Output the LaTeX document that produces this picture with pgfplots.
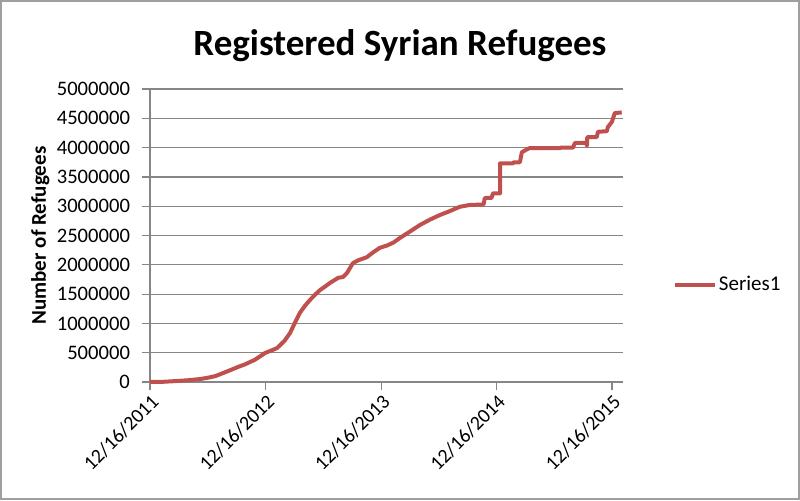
\documentclass[border=0pt]{standalone}
\usepackage{pgfplots}
\pgfplotsset{compat=1.18}
\usepackage{fontspec}
\setmainfont{Carlito}
\definecolor{serred}{RGB}{192,80,77}
\definecolor{gridgray}{RGB}{134,134,134}
\begin{document}
\begin{tikzpicture}[x=1pt,y=1pt]
\useasboundingbox (0,0) rectangle (400,250);
\draw[gray!75,line width=0.8pt] (0.6,0.6) rectangle (399.4,249.4);
\node[font=\fontsize{18.5}{20}\selectfont\bfseries] at (200,227) {Registered Syrian Refugees};
\begin{axis}[
  at={(75pt,59pt)}, anchor=south west,
  scale only axis, width=236.5pt, height=146.5pt,
  xmin=0, xmax=1496, ymin=0, ymax=5000000,
  axis x line=bottom, axis y line=left,
  axis line style={-, gridgray, line width=0.6pt},
  xtick={0,366,731,1096,1461},
  xticklabels={12/16/2011,12/16/2012,12/16/2013,12/16/2014,12/16/2015},
  xticklabel style={rotate=45, anchor=north east, font=\fontsize{10}{11}\selectfont, inner sep=1pt},
  ytick={0,500000,...,5000000},
  scaled y ticks=false,
  /pgf/number format/fixed, /pgf/number format/precision=0,
  /pgf/number format/1000 sep={}, /pgf/number format/assume math mode=true,
  yticklabel style={font=\fontsize{10.3}{11}\selectfont, xshift=-2.5pt},
  tick align=outside, major tick length=4pt,
  tick style={gridgray, line width=0.6pt},
  ymajorgrids, grid style={gridgray, line width=0.6pt},
  ylabel={\bfseries Number of Refugees},
  ylabel style={font=\fontsize{10.5}{12}\selectfont, at={(axis description cs:-0.232,0.5)}, anchor=center},
  legend style={at={(axis description cs:1.092,0.331)}, anchor=west, draw=none, fill=none, font=\fontsize{10.5}{12}\selectfont,
    nodes={inner xsep=1pt}},
  legend cell align=left,
  legend image code/.code={\draw[#1] (0pt,0pt) -- (20pt,0pt);},
  clip=false,
]
\addplot[serred, line width=2pt, line join=round] coordinates {
(0,0) (40,3000) (79,15000) (120,30000) (158,50000) (185,75000) (206,100000)
(230,150000) (253,200000) (280,260000) (300,300000) (332,380000) (364,495000)
(385,540000) (402,580000) (425,700000) (443,836000) (452,940000) (463,1060000)
(474,1180000) (490,1300000) (506,1400000) (522,1490000) (538,1570000)
(554,1630000) (569,1690000) (596,1780000) (610,1790000) (623,1860000)
(642,2030000) (660,2080000) (686,2130000) (705,2210000) (727,2290000)
(750,2330000) (770,2380000) (791,2460000) (820,2560000) (854,2680000)
(885,2770000) (917,2850000) (950,2920000) (980,2990000) (1010,3020000)
(1055,3030000) (1059,3140000) (1080,3140000) (1085,3220000) (1107,3220000)
(1107,3730000) (1148,3730000) (1150,3750000) (1170,3750000) (1176,3920000)
(1192,3970000) (1200,3990000) (1296,3990000) (1300,4000000) (1338,4000000)
(1344,4080000) (1380,4080000) (1382,4030000) (1383,4180000) (1413,4180000)
(1417,4270000) (1445,4280000) (1448,4350000) (1461,4440000) (1470,4590000)
(1492,4600000)
};
\addlegendentry{Series1}
\end{axis}
\end{tikzpicture}
\end{document}
